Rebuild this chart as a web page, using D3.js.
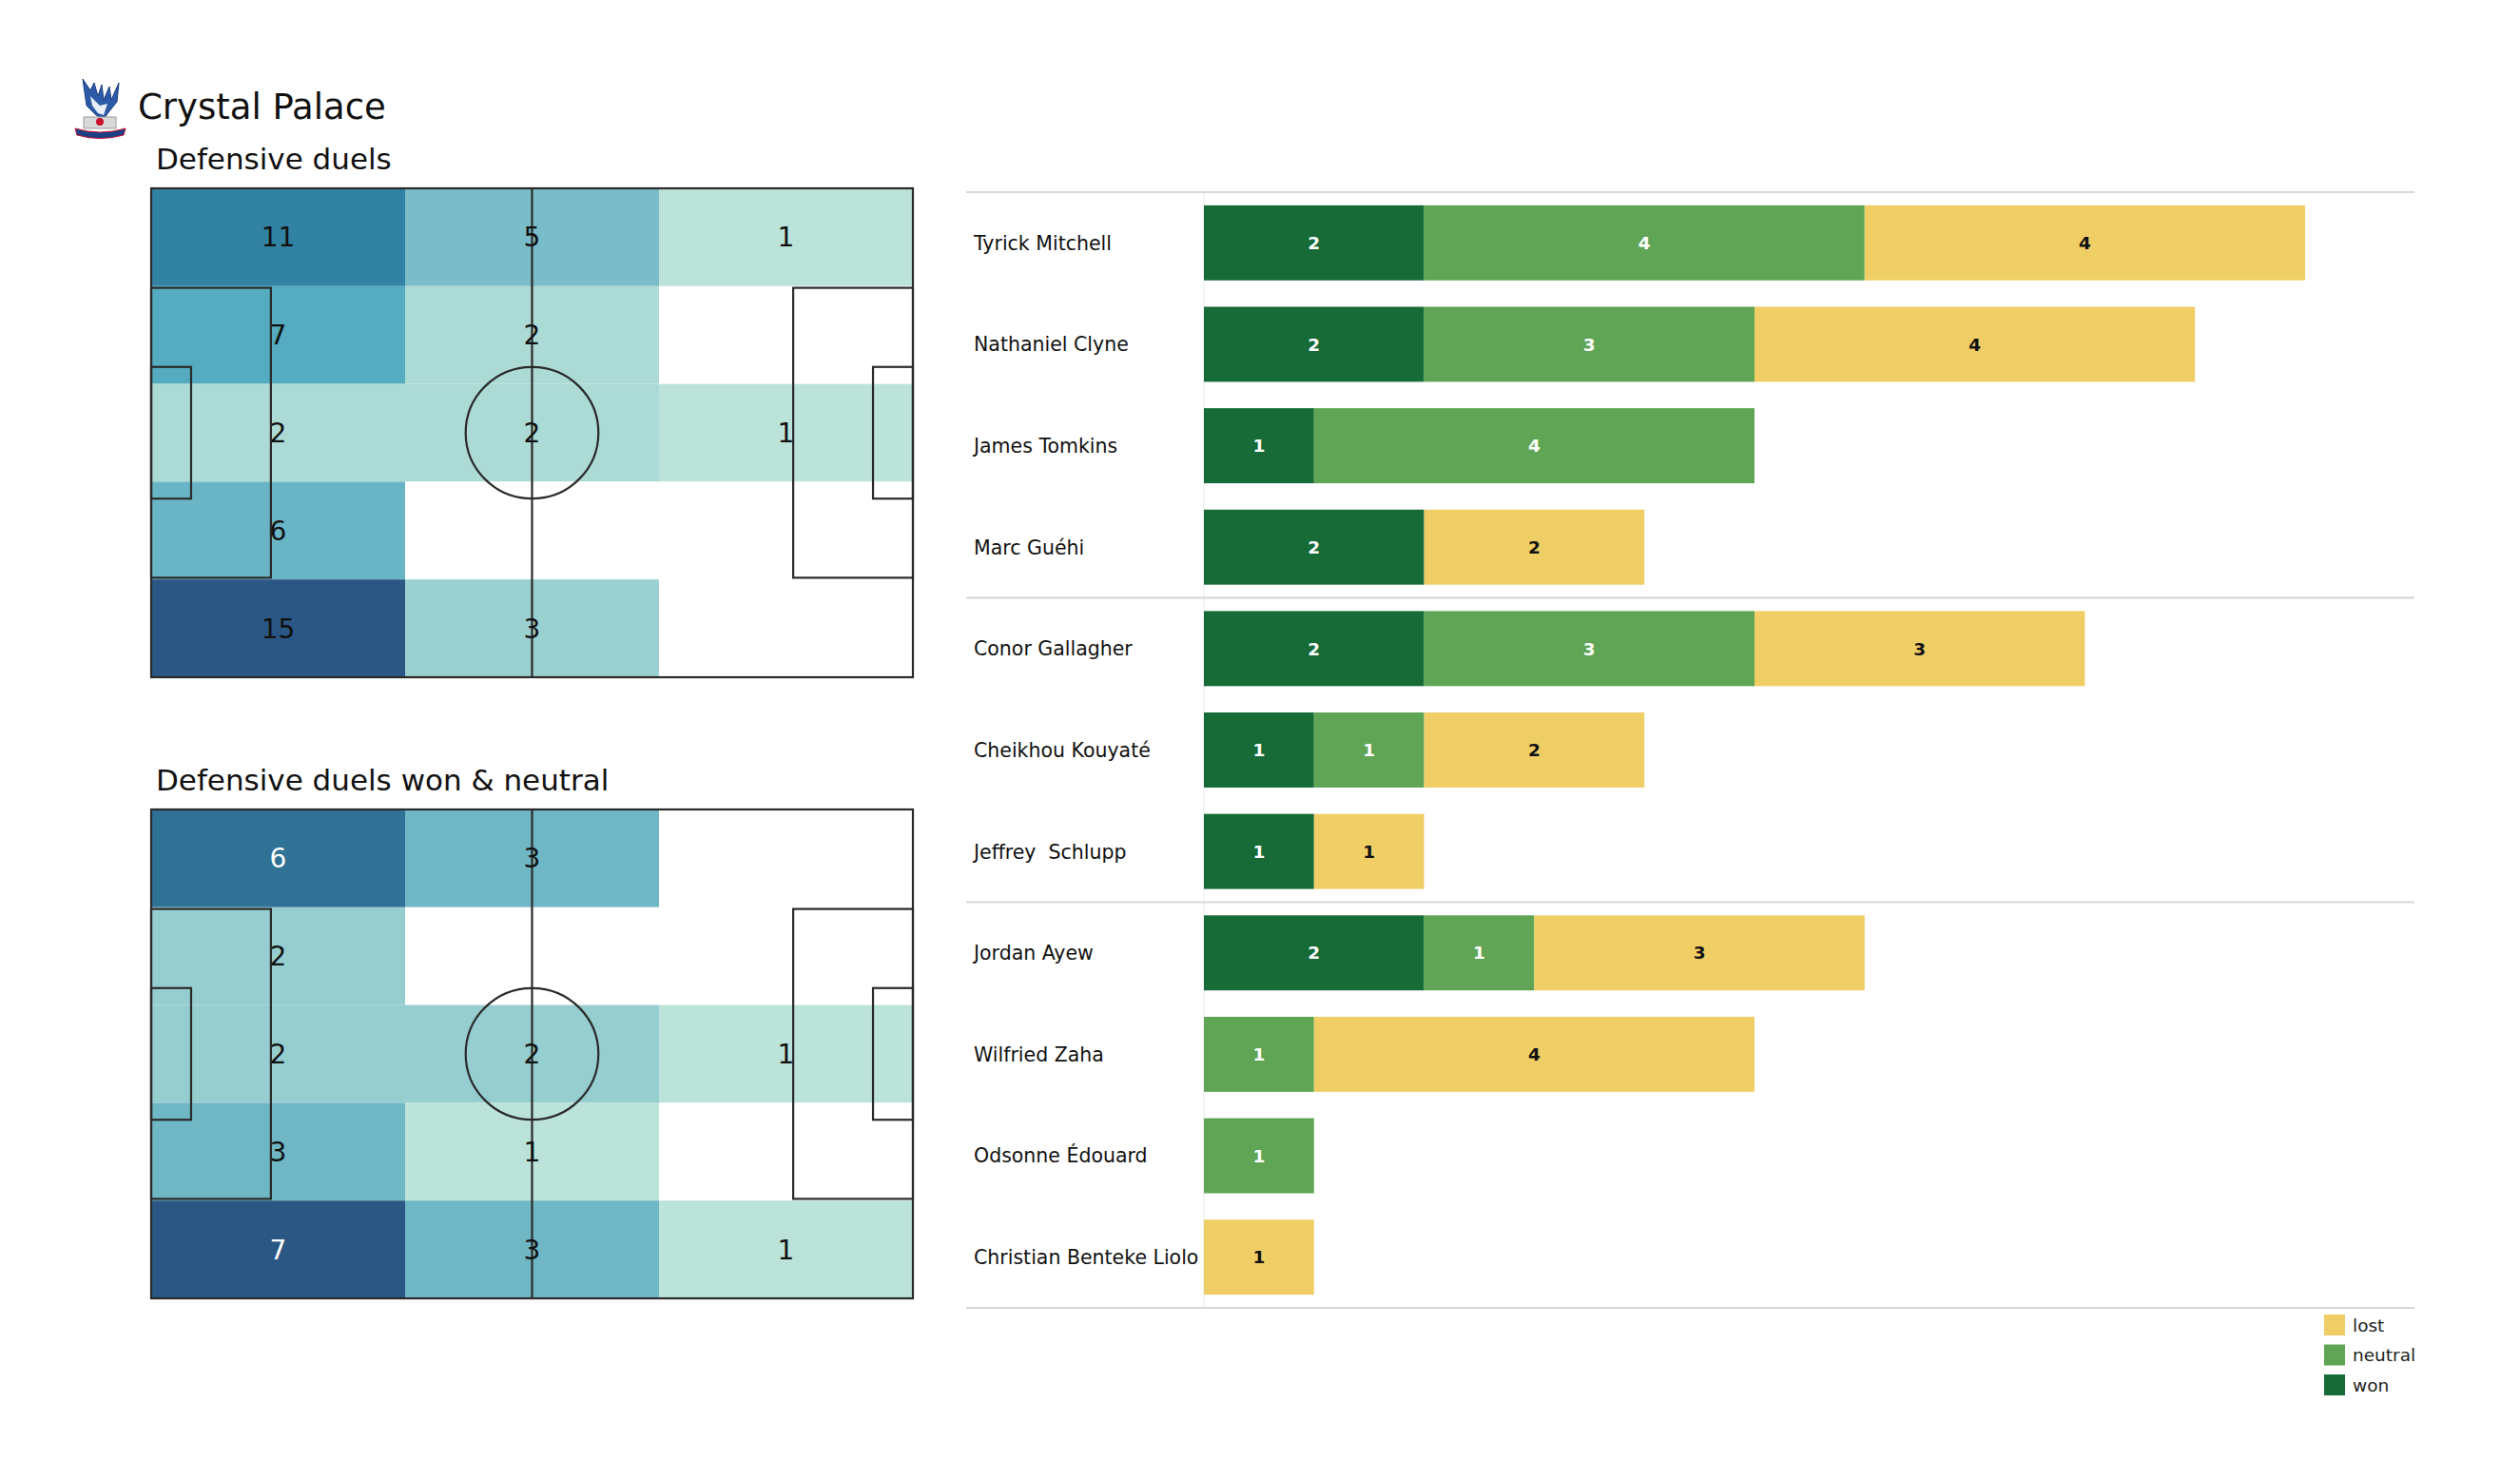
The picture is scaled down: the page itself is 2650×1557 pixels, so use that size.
<!DOCTYPE html>
<html>
<head>
<meta charset="utf-8">
<script src="https://cdn.jsdelivr.net/npm/d3@7"></script>
<style>
  html, body { margin: 0; padding: 0; background: #ffffff; }
  svg { display: block; font-family: "DejaVu Sans", "Liberation Sans", sans-serif; }
</style>
</head>
<body>
<svg id="chart" width="2650" height="1557"></svg>
<script>
// ---------------- DATA ----------------
const teamName = "Crystal Palace";
const pitchTitles = ["Defensive duels", "Defensive duels won & neutral"];

// 5 rows (top -> bottom) x 3 columns (left -> right)
const duelsGrid = [
  [11, 5, 1],
  [7, 2, 0],
  [2, 2, 1],
  [6, 0, 0],
  [15, 3, 0]
];
const duelsWonNeutralGrid = [
  [6, 3, 0],
  [2, 0, 0],
  [2, 2, 1],
  [3, 1, 0],
  [7, 3, 1]
];

const players = [
  "Tyrick Mitchell", "Nathaniel Clyne", "James Tomkins", "Marc Guéhi",
  "Conor Gallagher", "Cheikhou Kouyaté", "Jeffrey  Schlupp",
  "Jordan Ayew", "Wilfried Zaha", "Odsonne Édouard", "Christian Benteke Liolo"
];
const wonValues     = [2, 2, 1, 2, 2, 1, 1, 2, 0, 0, 0];
const neutralValues = [4, 3, 4, 0, 3, 1, 0, 1, 1, 1, 0];
const lostValues    = [4, 4, 0, 2, 3, 2, 1, 3, 4, 0, 1];
const groupBreaks = [4, 7]; // separator lines before these player indices
const seriesKeys = ["won", "neutral", "lost"];
const legendOrder = ["lost", "neutral", "won"];

// ---------------- STYLE ----------------
const svg = d3.select("#chart");
const FONT = '"DejaVu Sans", "Liberation Sans", sans-serif';
const seriesColors = { won: "#166b37", neutral: "#5fa555", lost: "#f0ce66" };
const seriesText = { won: "#ffffff", neutral: "#ffffff", lost: "#111111" };

// Heat colour ramp (normalised between smallest non-zero and max value)
const heatColor = d3.scaleLinear()
  .domain([0, 0.07, 0.143, 0.167, 0.286, 0.333, 0.357, 0.429, 0.714, 0.833, 1])
  .range(["#bce3da", "#acdbd6", "#9bd0d0", "#96cecf", "#7abdc8", "#6fb7c4",
          "#6ab5c5", "#55abc0", "#3282a3", "#2f7296", "#2b5784"])
  .interpolate(d3.interpolateRgb)
  .clamp(true);

// ---------------- HEADER ----------------
// simplified club crest
const crest = svg.append("g").attr("transform", "translate(79,81)");
crest.append("path")
  .attr("d", "M8,2 L16,14 L20,6 L24,20 L28,8 L30,24 L36,10 L38,24 L46,6 L44,26 L36,36 L30,44 L22,40 L12,30 Z")
  .attr("fill", "#2d5aa7").attr("stroke", "#1b3f82").attr("stroke-width", 1);
crest.append("path")
  .attr("d", "M16,20 L26,30 L34,28 L30,40 L24,38 L18,30 Z").attr("fill", "#e8eef8");
crest.append("rect").attr("x", 9).attr("y", 42).attr("width", 34).attr("height", 12)
  .attr("fill", "#d9d9d9").attr("stroke", "#9a9a9a").attr("stroke-width", 1);
crest.append("circle").attr("cx", 26).attr("cy", 47).attr("r", 4).attr("fill", "#c8102e");
crest.append("path").attr("d", "M0,54 Q26,62 53,54 L51,61 Q26,68 2,61 Z")
  .attr("fill", "#1b3f82").attr("stroke", "#c8102e").attr("stroke-width", 1);

svg.append("text").attr("x", 145).attr("y", 125)
  .attr("font-family", FONT).attr("font-size", 37).attr("fill", "#111")
  .text(teamName);

// ---------------- PITCHES ----------------
function drawPitch(grid, top, title, lightAbove) {
  const left = 159, right = 960, bottom = top + 514;
  const px = d3.scaleLinear().domain([0, 105]).range([left, right]);
  const py = d3.scaleLinear().domain([0, 68]).range([top, bottom]);
  const col = d3.scaleBand().domain(d3.range(3)).range([left, right]);
  const row = d3.scaleBand().domain(d3.range(5)).range([top, bottom]);

  svg.append("text").attr("x", 164).attr("y", top - 20)
    .attr("font-family", FONT).attr("font-size", 31).attr("fill", "#111")
    .text(title);

  const flat = [];
  grid.forEach((r, i) => r.forEach((v, j) => flat.push({ r: i, c: j, v })));
  const nz = flat.filter(d => d.v > 0).map(d => d.v);
  const vmin = d3.min(nz), vmax = d3.max(nz);
  const norm = d3.scaleLinear().domain([vmin, vmax]).range([0, 1]);

  const g = svg.append("g");
  g.selectAll("rect.cell").data(flat).join("rect")
    .attr("class", "cell")
    .attr("x", d => col(d.c)).attr("y", d => row(d.r))
    .attr("width", col.bandwidth()).attr("height", row.bandwidth())
    .attr("fill", d => d.v > 0 ? heatColor(norm(d.v)) : "#ffffff");

  // pitch markings
  const lines = svg.append("g").attr("fill", "none").attr("stroke", "#2a2a2a").attr("stroke-width", 2.2);
  lines.append("rect").attr("x", px(0)).attr("y", py(0))
    .attr("width", px(105) - px(0)).attr("height", py(68) - py(0));
  lines.append("line").attr("x1", px(52.5)).attr("x2", px(52.5)).attr("y1", py(0)).attr("y2", py(68));
  lines.append("ellipse").attr("cx", px(52.5)).attr("cy", py(34))
    .attr("rx", px(9.15) - px(0)).attr("ry", py(9.15) - py(0));
  // penalty & six-yard boxes
  [[16.5, 40.32], [5.5, 18.32]].forEach(([w, h]) => {
    lines.append("rect").attr("x", px(0)).attr("y", py(34 - h / 2))
      .attr("width", px(w) - px(0)).attr("height", py(34 + h / 2) - py(34 - h / 2));
    lines.append("rect").attr("x", px(105 - w)).attr("y", py(34 - h / 2))
      .attr("width", px(105) - px(105 - w)).attr("height", py(34 + h / 2) - py(34 - h / 2));
  });

  svg.append("g").selectAll("text").data(flat.filter(d => d.v > 0)).join("text")
    .attr("x", d => col(d.c) + col.bandwidth() / 2)
    .attr("y", d => row(d.r) + row.bandwidth() / 2)
    .attr("dy", "0.36em").attr("text-anchor", "middle")
    .attr("font-family", FONT).attr("font-size", 28)
    .attr("fill", d => (lightAbove !== null && norm(d.v) > lightAbove) ? "#ffffff" : "#111111")
    .text(d => d.v);
}
drawPitch(duelsGrid, 198, pitchTitles[0], null);
drawPitch(duelsWonNeutralGrid, 851, pitchTitles[1], 0.7);

// ---------------- BAR CHART ----------------
const x = d3.scaleLinear().domain([0, 10]).range([1266, 2424]);
const y = d3.scaleBand().domain(players).range([202, 1375]).paddingInner(0.26).paddingOuter(0.13);

const rows = players.map((p, i) => ({ player: p, won: wonValues[i], neutral: neutralValues[i], lost: lostValues[i] }));
const stacked = d3.stack().keys(seriesKeys)(rows);

// faint vertical spine
svg.append("line").attr("x1", x(0)).attr("x2", x(0)).attr("y1", 202).attr("y2", 1375)
  .attr("stroke", "#f0f0f0").attr("stroke-width", 1.5);

// separators
const sepY = [202, 1375].concat(groupBreaks.map(i => y(players[i]) - y.step() * y.paddingInner() / 2));
svg.append("g").selectAll("line").data(sepY).join("line")
  .attr("x1", 1016).attr("x2", 2539).attr("y1", d => d).attr("y2", d => d)
  .attr("stroke", "#d6d6d6").attr("stroke-width", 2);

const layers = svg.append("g").selectAll("g").data(stacked).join("g")
  .attr("fill", d => seriesColors[d.key]);
layers.selectAll("rect").data(d => d.filter(s => s[1] - s[0] > 0)).join("rect")
  .attr("x", d => x(d[0])).attr("width", d => x(d[1]) - x(d[0]))
  .attr("y", d => y(d.data.player)).attr("height", y.bandwidth());
layers.each(function (layer) {
  d3.select(this).selectAll("text").data(layer.filter(s => s[1] - s[0] > 0)).join("text")
    .attr("x", d => (x(d[0]) + x(d[1])) / 2)
    .attr("y", d => y(d.data.player) + y.bandwidth() / 2)
    .attr("dy", "0.36em").attr("text-anchor", "middle")
    .attr("font-family", FONT).attr("font-size", 18.5).attr("font-weight", "bold")
    .attr("fill", seriesText[layer.key])
    .text(d => d[1] - d[0]);
});

// player names
svg.append("g").selectAll("text").data(players).join("text")
  .attr("x", 1024).attr("y", d => y(d) + y.bandwidth() / 2).attr("dy", "0.36em")
  .attr("font-family", FONT).attr("font-size", 20.5).attr("fill", "#111")
  .attr("xml:space", "preserve").style("white-space", "pre")
  .text(d => d);

// legend
const lg = svg.append("g").attr("transform", "translate(2444,1382)");
legendOrder.forEach((k, i) => {
  lg.append("rect").attr("x", 0).attr("y", i * 31.5).attr("width", 22).attr("height", 22)
    .attr("fill", seriesColors[k]);
  lg.append("text").attr("x", 30).attr("y", i * 31.5 + 11).attr("dy", "0.36em")
    .attr("font-family", FONT).attr("font-size", 18.5).attr("fill", "#222").text(k);
});
</script>
</body>
</html>
